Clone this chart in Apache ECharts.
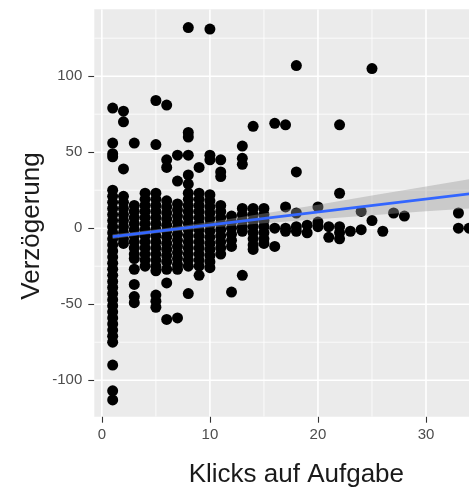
<!DOCTYPE html>
<html>
<head>
<meta charset="utf-8">
<script src="https://cdn.jsdelivr.net/npm/echarts@6/dist/echarts.min.js"></script>
<style>
html,body{margin:0;padding:0;background:#fff;}
#chart{width:469px;height:488px;}
</style>
</head>
<body>
<div id="chart"></div>
<script>
// ---- data ----
const clickValues = [1,2,3,4,5,6,7,8,9,10,11,12,13,14,15,16,17,18,19,20,21,22,23,24,25,26,27,28,33,34];
const delaysByClick = [
  [79,56,49,47,25,21,17,13,9,5,1,-3,-7,-11,-15,-19,-23,-27,-31,-35,-39,-43,-47,-51,-55,-59,-63,-67,-71,-75,-90,-107,-113],
  [77,70,39,21,17,13,9,5,1,-3,-7,-10],
  [56,15,11,7,3,-1,-5,-9,-13,-17,-20,-27,-37,-45,-49],
  [23,19,15,11,7,3,-1,-5,-9,-13,-17,-21,-25],
  [84,55,23,19,15,11,7,3,-1,-5,-9,-13,-17,-21,-25,-28,-44,-48,-52],
  [81,45,40,18,14,10,6,2,-2,-6,-10,-14,-18,-22,-27,-36,-60],
  [48,31,16,12,8,4,0,-4,-8,-12,-16,-20,-24,-27,-59],
  [132,63,60,48,35,29,23,19,15,11,7,3,-1,-5,-9,-13,-17,-21,-25,-43],
  [40,23,19,15,11,7,3,-1,-5,-9,-13,-17,-21,-25,-31],
  [131,48,45,22,18,14,10,6,2,-2,-6,-10,-14,-18,-22,-26],
  [45,37,34,15,11,7,3,-1,-5,-9,-13,-17],
  [8,4,0,-4,-8,-12,-42],
  [54,46,42,13,9,5,1,-2,-31],
  [67,13,9,5,1,-3,-7,-11,-14],
  [13,9,5,1,-3,-7,-10],
  [69,0,-12],
  [68,14,0,-2],
  [107,37,10,1,-2],
  [2,-3],
  [14,4,1],
  [1,-6],
  [68,23,1,-3,-7],
  [-2],
  [11,-1],
  [105,5],
  [-2],
  [10],
  [8],
  [10,0],
  [0]
];
// regression line and its confidence band
const fitX = [1, 34];
const fitY = [-5.5, 22.6];
const bandX  = [1, 3, 6, 10, 15, 20, 25, 30, 34];
const bandLo = [-7.1, -5.1, -2.5, 0.4, 3.3, 5.9, 8.5, 11.1, 13.0];
const bandHi = [-3.9, -2.5, 0.1, 4.0, 9.7, 15.5, 21.5, 27.5, 32.2];
// axis ticks / grid
const xTicks = [0, 10, 20, 30];
const xMinor = [5, 15, 25, 35];
const yTicks = [-100, -50, 0, 50, 100];
const yMinor = [-75, -25, 25, 75, 125];
const xTitle = 'Klicks auf Aufgabe';
const yTitle = 'Verzögerung';

// ---- build ----
const points = [];
clickValues.forEach((c, i) => delaysByClick[i].forEach(d => points.push([c, d])));

const FONT = '"Liberation Sans", Arial, Helvetica, sans-serif';
const chart = echarts.init(document.getElementById('chart'), null, {renderer: 'canvas'});

chart.setOption({
  animation: false,
  backgroundColor: '#ffffff',
  grid: {
    left: 94.3, top: 9.3, right: -29.4, bottom: 71.3,
    show: true, backgroundColor: '#EBEBEB', borderWidth: 0,
    containLabel: false, outerBoundsMode: 'none'
  },
  xAxis: {
    type: 'value', min: -0.7, max: 36.7,
    axisLine: {show: false, onZero: false},
    axisTick: {show: true, length: 6, lineStyle: {color: '#333333', width: 1.1}, customValues: xTicks},
    axisLabel: {show: true, margin: 11, fontSize: 15, color: '#4D4D4D', fontFamily: FONT, customValues: xTicks},
    splitLine: {show: false},
    name: xTitle, nameLocation: 'middle', nameGap: 45,
    nameTextStyle: {fontSize: 26, color: '#1a1a1a', fontFamily: FONT}
  },
  yAxis: {
    type: 'value', min: -124, max: 144,
    axisLine: {show: false, onZero: false},
    axisTick: {show: true, length: 6, lineStyle: {color: '#333333', width: 1.1}, customValues: yTicks},
    axisLabel: {show: true, margin: 12, fontSize: 15, color: '#4D4D4D', fontFamily: FONT, customValues: yTicks},
    splitLine: {show: false}
  },
  graphic: [{
    type: 'text', x: 32, y: 226, rotation: Math.PI / 2,
    style: {text: yTitle, fontSize: 26, fontFamily: FONT, fill: '#1a1a1a', align: 'center', verticalAlign: 'middle'}
  }],
  series: [
    {
      type: 'custom', z: 1, silent: true, clip: true,
      data: [[0, 0]],
      renderItem: function (params, api) {
        const cs = params.coordSys;
        const ch = [];
        const vline = (v, w) => { const p = api.coord([v, 0]); ch.push({type: 'line', shape: {x1: p[0], y1: cs.y, x2: p[0], y2: cs.y + cs.height}, style: {stroke: '#ffffff', lineWidth: w}}); };
        const hline = (v, w) => { const p = api.coord([0, v]); ch.push({type: 'line', shape: {x1: cs.x, y1: p[1], x2: cs.x + cs.width, y2: p[1]}, style: {stroke: '#ffffff', lineWidth: w}}); };
        xMinor.forEach(v => vline(v, 0.8));
        yMinor.forEach(v => hline(v, 0.8));
        xTicks.forEach(v => vline(v, 1.6));
        yTicks.forEach(v => hline(v, 1.6));
        return {type: 'group', children: ch};
      }
    },
    {
      type: 'scatter', z: 2, silent: true,
      symbol: 'circle', symbolSize: 11,
      itemStyle: {color: '#000000', opacity: 1},
      data: points
    },
    {
      type: 'custom', z: 3, silent: true, clip: false,
      data: [[bandX[0], bandLo[0]]],
      renderItem: function (params, api) {
        const pts = [];
        for (let i = 0; i < bandX.length; i++) pts.push(api.coord([bandX[i], bandHi[i]]));
        for (let i = bandX.length - 1; i >= 0; i--) pts.push(api.coord([bandX[i], bandLo[i]]));
        return {type: 'polygon', shape: {points: pts, smooth: 0}, style: {fill: 'rgba(153,153,153,0.4)'}};
      }
    },
    {
      type: 'line', z: 4, silent: true, symbol: 'none',
      lineStyle: {color: '#3366FF', width: 2.8},
      data: fitX.map((x, i) => [x, fitY[i]])
    }
  ]
});
</script>
</body>
</html>
